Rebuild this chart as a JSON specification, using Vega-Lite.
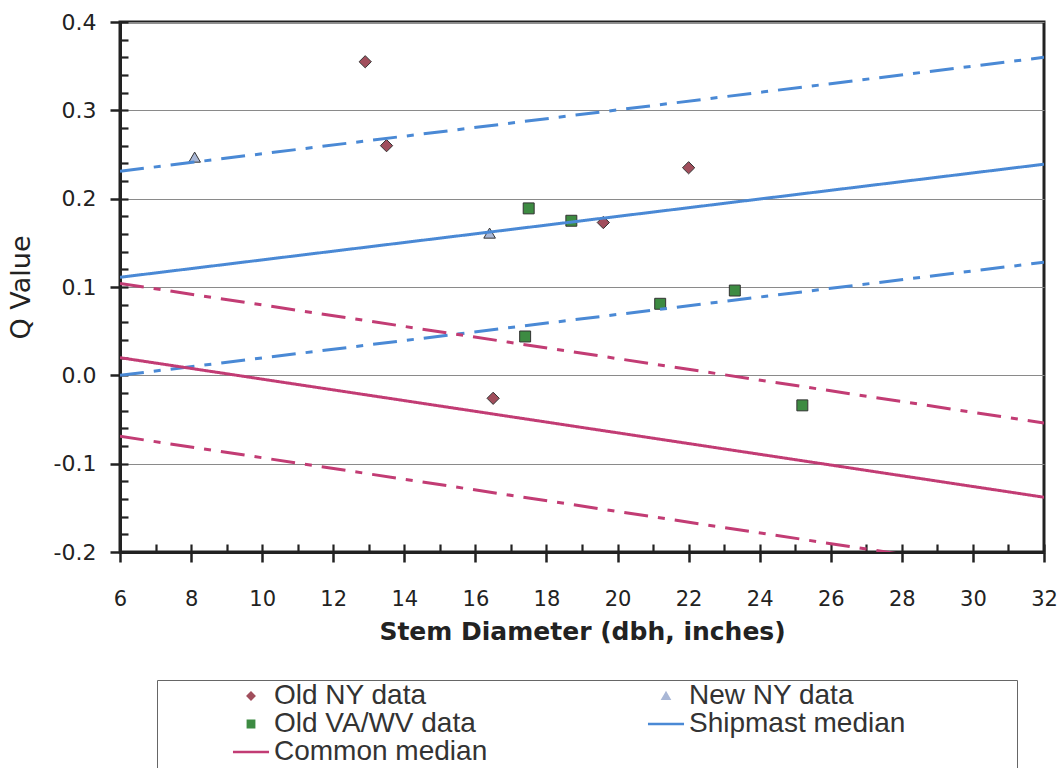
{
  "$schema": "https://vega.github.io/schema/vega-lite/v6.json",
  "width": 924,
  "height": 530,
  "autosize": {"type": "none"},
  "padding": {"left": 120, "top": 22, "right": 20, "bottom": 216},
  "background": "#ffffff",
  "config": {
    "view": {"stroke": "#222222", "strokeWidth": 3},
    "font": "DejaVu Sans",
    "legend": {
      "orient": "none", "legendX": 37, "legendY": 658, "direction": "horizontal",
      "columns": 2, "columnPadding": 45, "rowPadding": -6,
      "titleOrient": "left", "titleFontSize": 1, "titlePadding": 78,
      "labelFont": "Liberation Sans", "labelFontSize": 28, "labelColor": "#333333", "labelLimit": 600, "labelOffset": 9,
      "symbolSize": 40, "symbolStrokeWidth": 2.5,
      "padding": 2, "strokeColor": "#666666", "fillColor": "#ffffff"
    }
  },
  "datasets": {
    "points": [
      {"series": "Old NY data", "x": 12.9, "y": 0.355},
      {"series": "Old NY data", "x": 13.5, "y": 0.26},
      {"series": "Old NY data", "x": 22.0, "y": 0.235},
      {"series": "Old NY data", "x": 19.6, "y": 0.173},
      {"series": "Old NY data", "x": 16.5, "y": -0.026},
      {"series": "New NY data", "x": 8.1, "y": 0.247},
      {"series": "New NY data", "x": 16.4, "y": 0.161},
      {"series": "Old VA/WV data", "x": 17.5, "y": 0.189},
      {"series": "Old VA/WV data", "x": 18.7, "y": 0.175},
      {"series": "Old VA/WV data", "x": 17.4, "y": 0.044},
      {"series": "Old VA/WV data", "x": 21.2, "y": 0.081},
      {"series": "Old VA/WV data", "x": 23.3, "y": 0.096},
      {"series": "Old VA/WV data", "x": 25.2, "y": -0.034}
    ],
    "lines": [
      {"series": "Shipmast median", "line": "ship", "style": "solid", "x": 6, "y": 0.111},
      {"series": "Shipmast median", "line": "ship", "style": "solid", "x": 32, "y": 0.239},
      {"series": "Shipmast median", "line": "shipUpper", "style": "dashdot", "x": 6, "y": 0.231},
      {"series": "Shipmast median", "line": "shipUpper", "style": "dashdot", "x": 32, "y": 0.36},
      {"series": "Shipmast median", "line": "shipLower", "style": "dashdot", "x": 6, "y": 0.0},
      {"series": "Shipmast median", "line": "shipLower", "style": "dashdot", "x": 32, "y": 0.128},
      {"series": "Common median", "line": "common", "style": "solid", "x": 6, "y": 0.02},
      {"series": "Common median", "line": "common", "style": "solid", "x": 32, "y": -0.138},
      {"series": "Common median", "line": "commonUpper", "style": "dashdot", "x": 6, "y": 0.104},
      {"series": "Common median", "line": "commonUpper", "style": "dashdot", "x": 32, "y": -0.054},
      {"series": "Common median", "line": "commonLower", "style": "dashdot", "x": 6, "y": -0.069},
      {"series": "Common median", "line": "commonLower", "style": "dashdot", "x": 32, "y": -0.227}
    ]
  },
  "resolve": {"axis": {"x": "independent", "y": "independent"}},
  "layer": [
    {
      "data": {"name": "points"},
      "mark": {"type": "point", "filled": true, "stroke": "#333333", "strokeWidth": 1, "opacity": 1},
      "encoding": {
        "x": {
          "field": "x", "type": "quantitative",
          "scale": {"domain": [6, 32], "nice": false, "zero": false},
          "axis": {
            "orient": "bottom",
            "values": [6, 7, 8, 9, 10, 11, 12, 13, 14, 15, 16, 17, 18, 19, 20, 21, 22, 23, 24, 25, 26, 27, 28, 29, 30, 31, 32],
            "grid": false, "labels": false, "domain": false, "title": null,
            "tickSize": -8, "tickWidth": 2.2, "tickColor": "#222222"
          }
        },
        "y": {
          "field": "y", "type": "quantitative",
          "scale": {"domain": [-0.2, 0.4], "nice": false, "zero": false},
          "axis": {
            "orient": "left",
            "values": [-0.2, -0.18, -0.16, -0.14, -0.12, -0.1, -0.08, -0.06, -0.04, -0.02, 0, 0.02, 0.04, 0.06, 0.08, 0.1, 0.12, 0.14, 0.16, 0.18, 0.2, 0.22, 0.24, 0.26, 0.28, 0.3, 0.32, 0.34, 0.36, 0.38, 0.4],
            "grid": false, "labels": false, "domain": false, "title": null,
            "tickSize": -8, "tickWidth": 2.2, "tickColor": "#222222"
          }
        },
        "size": {
          "field": "series", "type": "nominal",
          "scale": {"domain": ["Old NY data", "New NY data", "Old VA/WV data"], "range": [150, 120, 110]},
          "legend": null
        },
        "color": {
          "field": "series", "type": "nominal",
          "scale": {
            "domain": ["Old NY data", "New NY data", "Old VA/WV data", "Shipmast median", "Common median"],
            "range": ["#a14e5c", "#a9b7d6", "#3d8b42", "#4a89d5", "#c23c74"]
          },
          "legend": {"title": "\u00a0", "labelExpr": "datum.label + '              \u200b'"}
        },
        "shape": {
          "field": "series", "type": "nominal",
          "scale": {
            "domain": ["Old NY data", "New NY data", "Old VA/WV data", "Shipmast median", "Common median"],
            "range": ["diamond", "triangle-up", "square", "M-5.7,0H5.7", "M-5.7,0H5.7"]
          },
          "legend": {"title": "\u00a0", "labelExpr": "datum.label + '              \u200b'"}
        }
      }
    },
    {
      "data": {"name": "lines"},
      "mark": {"type": "line", "strokeWidth": 3, "clip": true},
      "encoding": {
        "x": {
          "field": "x", "type": "quantitative",
          "axis": {
            "orient": "bottom",
            "values": [6, 8, 10, 12, 14, 16, 18, 20, 22, 24, 26, 28, 30, 32],
            "grid": false,
            "tickSize": 10, "tickWidth": 2.5, "tickColor": "#222222",
            "domain": true, "domainColor": "#222222", "domainWidth": 3,
            "labelFont": "DejaVu Sans", "labelFontSize": 21, "labelColor": "#222222", "labelPadding": 26,
            "labelFlush": false, "labelOverlap": false,
            "title": "Stem Diameter (dbh, inches)",
            "titleFont": "DejaVu Sans", "titleFontSize": 25, "titleFontWeight": "bold", "titleColor": "#222222",
            "titlePadding": 10
          }
        },
        "y": {
          "field": "y", "type": "quantitative",
          "axis": {
            "orient": "left",
            "values": [-0.2, -0.1, 0, 0.1, 0.2, 0.3, 0.4],
            "labelExpr": "replace(format(datum.value, '.1f'), '\u2212', '-')",
            "grid": true, "gridColor": "#8a8a8a", "gridWidth": 1,
            "tickSize": 10, "tickWidth": 2.5, "tickColor": "#222222",
            "domain": true, "domainColor": "#222222", "domainWidth": 3,
            "labelFont": "DejaVu Sans", "labelFontSize": 22, "labelColor": "#222222", "labelPadding": 14,
            "labelFlush": false, "labelOverlap": false,
            "title": "Q Value",
            "titleFont": "DejaVu Sans", "titleFontSize": 27, "titleFontWeight": "normal", "titleColor": "#222222",
            "titlePadding": 18
          }
        },
        "color": {"field": "series", "type": "nominal"},
        "detail": {"field": "line"},
        "strokeDash": {
          "field": "style", "type": "nominal",
          "scale": {"domain": ["solid", "dashdot"], "range": [[1, 0], [24, 10, 7, 10]]},
          "legend": null
        }
      }
    }
  ]
}
